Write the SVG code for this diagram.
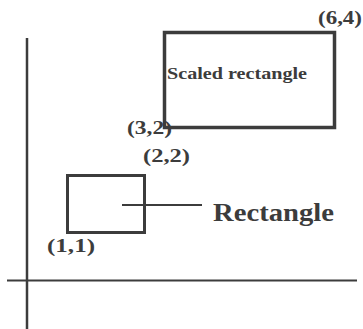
<svg xmlns="http://www.w3.org/2000/svg" width="363" height="329" viewBox="0 0 363 329">
<style>
.ln{stroke:#3c3c3c;fill:none}
.t{font-family:"Liberation Serif","Times New Roman",serif;font-weight:bold;fill:#3c3c3c}
</style>
<rect width="363" height="329" fill="#ffffff"/>
<g id="axes">
<line class="ln" x1="27" y1="38" x2="27" y2="329" stroke-width="2.5"/>
<line class="ln" x1="7" y1="280.5" x2="357" y2="280.5" stroke-width="2"/>
</g>
<g id="scaled-rectangle">
<rect class="ln" x="164.5" y="32.5" width="170" height="95" stroke-width="3.5"/>
<text class="t" x="167" y="79" font-size="17" textLength="140" lengthAdjust="spacingAndGlyphs">Scaled rectangle</text>
</g>
<g id="rectangle">
<rect class="ln" x="67.5" y="175.5" width="77" height="57" stroke-width="3"/>
</g>
<g id="connectors">
<line class="ln" x1="122" y1="205" x2="202" y2="205" stroke-width="2"/>
</g>
<g id="labels">
<text class="t" x="213" y="221" font-size="26" textLength="121" lengthAdjust="spacingAndGlyphs">Rectangle</text>
<text class="t" x="318" y="24" font-size="19" textLength="44" lengthAdjust="spacingAndGlyphs">(6,4)</text>
<text class="t" x="127" y="134" font-size="19" textLength="45" lengthAdjust="spacingAndGlyphs">(3,2)</text>
<text class="t" x="143" y="162" font-size="19" textLength="47" lengthAdjust="spacingAndGlyphs">(2,2)</text>
<text class="t" x="47" y="252" font-size="19" textLength="48" lengthAdjust="spacingAndGlyphs">(1,1)</text>
</g>
</svg>
